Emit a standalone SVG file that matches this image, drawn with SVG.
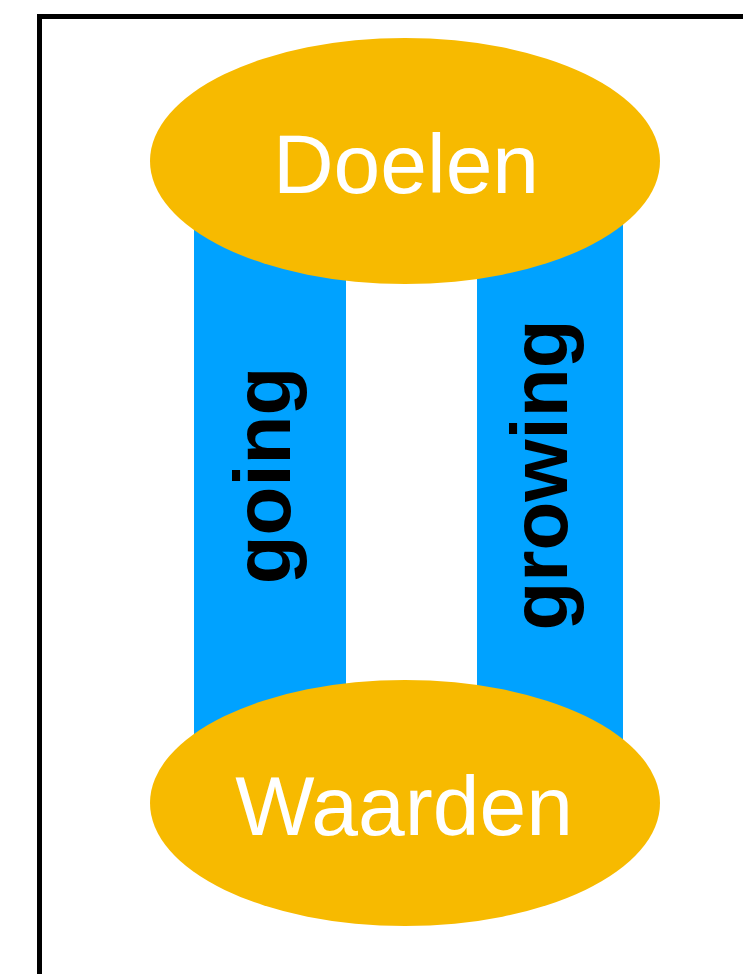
<svg xmlns="http://www.w3.org/2000/svg" width="743" height="974" viewBox="0 0 743 974">
  <style>
    .ell { fill: #F7BA00; }
    .bar { fill: #00A2FF; }
    .node-label { font-family: "Liberation Sans", Arial, sans-serif; font-size: 84px; fill: #FFFFFF; text-anchor: middle; }
    .bar-label { font-family: "Liberation Sans", Arial, sans-serif; font-size: 80px; font-weight: bold; fill: #000000; text-anchor: middle; }
  </style>
  <rect x="0" y="0" width="743" height="974" fill="#FFFFFF"/>
  <rect id="frame" x="39.5" y="16.5" width="800" height="1000" fill="none" stroke="#000000" stroke-width="5"/>
  <g id="connectors">
    <g id="going">
      <rect class="bar" x="194" y="200" width="152" height="580"/>
      <text class="bar-label" transform="translate(290,475.5) rotate(-90)" x="0" y="0">going</text>
    </g>
    <g id="growing">
      <rect class="bar" x="477" y="200" width="146" height="580"/>
      <text class="bar-label" transform="translate(567,475) rotate(-90)" x="0" y="0">growing</text>
    </g>
  </g>
  <g id="doelen">
    <ellipse class="ell" cx="405" cy="161" rx="255" ry="123"/>
    <text class="node-label" x="406" y="193">Doelen</text>
  </g>
  <g id="waarden">
    <ellipse class="ell" cx="405" cy="803" rx="255" ry="123"/>
    <text class="node-label" x="404" y="835">Waarden</text>
  </g>
</svg>
